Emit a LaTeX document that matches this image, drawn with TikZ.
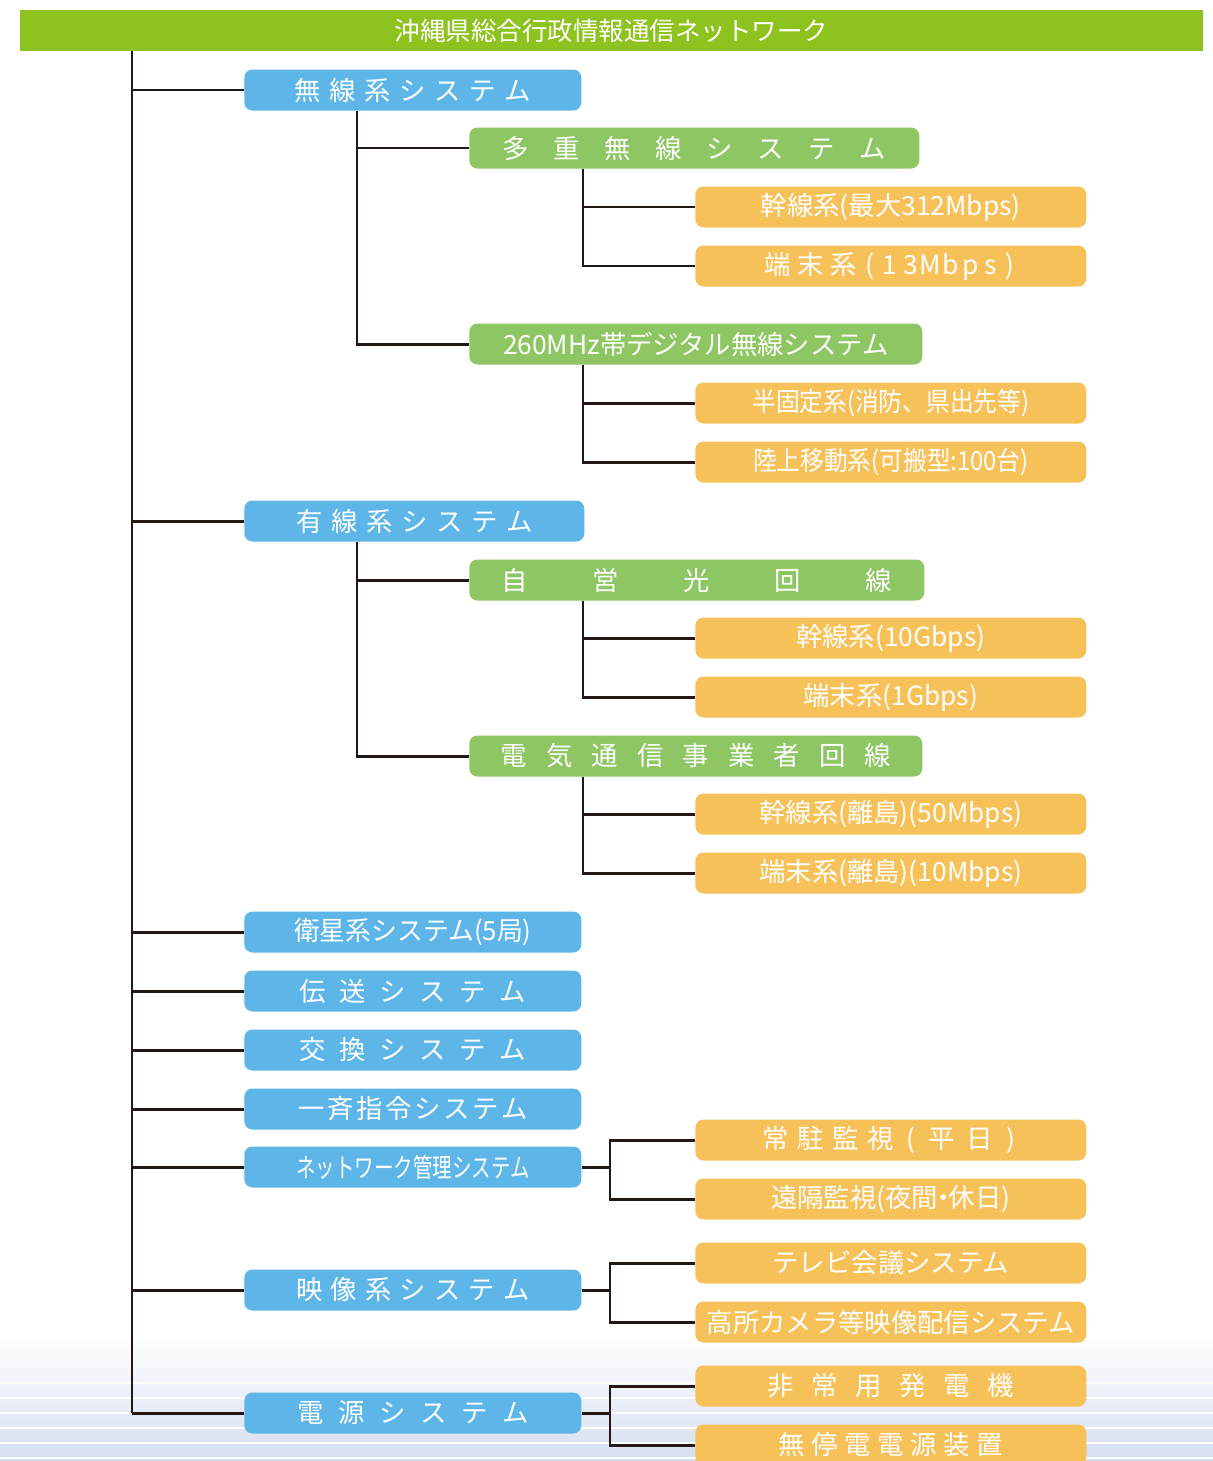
\documentclass[tikz,border=0pt]{standalone}
\usepackage{fontspec}
\newfontfamily\jpfont{Noto Sans CJK JP}
\usetikzlibrary{positioning}

\definecolor{titlegreen}{RGB}{141,194,31}
\definecolor{sysblue}{RGB}{94,182,232}
\definecolor{subgreen}{RGB}{141,198,99}
\definecolor{leaforange}{RGB}{247,193,90}
\definecolor{linebrown}{RGB}{35,24,21}
\definecolor{floorblue}{RGB}{214,222,240}

\makeatletter
\newcommand\spaced[2]{\@tfor\spch:=#2\do{\makebox[#1]{\spch}}}
\makeatother

\begin{document}
\begin{tikzpicture}[x=0.02cm, y=-0.02cm,
    box/.style={rectangle, rounded corners=0.16cm, inner sep=0pt, minimum height=0.82cm,
        anchor=west, text=white, font=\jpfont\fontsize{15}{18}\selectfont},
    sysbox/.style={box, fill=sysblue, minimum width=6.74cm},
    subbox/.style={box, fill=subgreen, minimum width=9cm},
    leafbox/.style={box, fill=leaforange, minimum width=7.82cm},
    tree/.style={draw=linebrown, line width=1.7pt}]
\useasboundingbox (0,0) rectangle (1213,1461);

% floor gradient
\shade[top color=white, bottom color=floorblue] (0,1335) rectangle (1213,1461);
\foreach \yy in {1383,1398,1413,1428,1443,1458}
    \draw[white, line width=0.8pt] (0,\yy) -- (1213,\yy);

\node (title) [rectangle, fill=titlegreen, minimum width=23.66cm, minimum height=0.82cm,
    inner sep=0pt, text=white, font=\jpfont\fontsize{14.5}{17}\selectfont] at (611.5,30.5)
    {沖縄県総合行政情報通信ネットワーク};

% first level
\node (musen) [sysbox] at (244,90) {\spaced{0.70cm}{無線系システム}};
\node (yusen) [sysbox, minimum width=6.8cm] at (244,521) {\spaced{0.70cm}{有線系システム}};
\node (eisei) [sysbox] at (244,932) {\scalebox{0.98}[1]{衛星系システム(5局)}};
\node (densou) [sysbox] at (244,991) {\spaced{0.80cm}{伝送システム}};
\node (koukan) [sysbox] at (244,1050) {\spaced{0.80cm}{交換システム}};
\node (issei) [sysbox] at (244,1109) {\spaced{0.58cm}{一斉指令システム}};
\node (netkan) [sysbox] at (244,1167) {\scalebox{0.74}[1]{ネットワーク管理システム}};
\node (eizou) [sysbox] at (244,1290) {\spaced{0.69cm}{映像系システム}};
\node (dengen) [sysbox] at (244,1413) {\spaced{0.82cm}{電源システム}};

% second level
\node (tajuu) [subbox] at (469,148) {\spaced{1.02cm}{多重無線システム}};
\node (dig) [subbox, minimum width=9.06cm] at (469,344) {260MHz帯デジタル無線システム};
\node (jiei) [subbox, minimum width=9.06cm] at (469,580) {\spaced{1.82cm}{自営光回線}};
\node (dentsu) [subbox, minimum width=9.06cm] at (469,756) {\spaced{0.91cm}{電気通信事業者回線}};

% third level
\node (kansenM) [leafbox] at (695,207) {幹線系(最大312Mbps)};
\node (tanmatsuM) [leafbox] at (695,266) {\spaced{0.66cm}{端末系}\spaced{0.4cm}{(13Mbps)}};
\node (hankotei) [leafbox] at (695,403) {\scalebox{0.9}[1]{半固定系(消防、県出先等)}};
\node (rikujou) [leafbox] at (695,462) {\scalebox{0.9}[1]{陸上移動系(可搬型:100台)}};
\node (kansenK) [leafbox] at (695,638) {幹線系(10Gbps)};
\node (tanmatsuK) [leafbox] at (695,697) {端末系(1Gbps)};
\node (kansenR) [leafbox] at (695,814) {幹線系(離島)(50Mbps)};
\node (tanmatsuR) [leafbox] at (695,873) {端末系(離島)(10Mbps)};
\node (joutyu) [leafbox] at (695,1140) {\spaced{0.70cm}{常駐監視}\spaced{0.5cm}{(}\spaced{0.75cm}{平日}\spaced{0.5cm}{)}};
\node (enkaku) [leafbox] at (695,1199) {遠隔監視(夜間\kern-0.3em・\kern-0.3em休日)};
\node (tvkaigi) [leafbox] at (695,1263) {テレビ会議システム};
\node (kamera) [leafbox] at (695,1322) {高所カメラ等映像配信システム};
\node (hijou) [leafbox] at (695,1386) {\spaced{0.88cm}{非常用発電機}};
\node (mutei) [leafbox] at (695,1445) {\spaced{0.66cm}{無停電電源装置}};

\coordinate (trunk) at (132,51);
\coordinate (musenT) at (357,0);
\coordinate (tajuuT) at (583,0);
\coordinate (brk) at (610,0);

% main trunk
\draw[tree] (title.south -| trunk) -- (dengen.west -| trunk);
\foreach \sys in {musen,yusen,eisei,densou,koukan,issei,netkan,eizou,dengen}
    \draw[tree] (\sys.west -| trunk) -- (\sys.west);

% second level branches
\draw[tree] (musen.south -| musenT) |- (tajuu.west);
\draw[tree] (musen.south -| musenT) |- (dig.west);
\draw[tree] (yusen.south -| musenT) |- (jiei.west);
\draw[tree] (yusen.south -| musenT) |- (dentsu.west);

% third level branches
\draw[tree] (tajuu.south -| tajuuT) |- (kansenM.west);
\draw[tree] (tajuu.south -| tajuuT) |- (tanmatsuM.west);
\draw[tree] (dig.south -| tajuuT) |- (hankotei.west);
\draw[tree] (dig.south -| tajuuT) |- (rikujou.west);
\draw[tree] (jiei.south -| tajuuT) |- (kansenK.west);
\draw[tree] (jiei.south -| tajuuT) |- (tanmatsuK.west);
\draw[tree] (dentsu.south -| tajuuT) |- (kansenR.west);
\draw[tree] (dentsu.south -| tajuuT) |- (tanmatsuR.west);

% brackets on the right
\draw[tree] (netkan.east) -- (netkan.east -| brk);
\draw[tree] (joutyu.west) -| (enkaku.west -| brk) -- (enkaku.west);
\draw[tree] (eizou.east) -- (eizou.east -| brk);
\draw[tree] (tvkaigi.west) -| (kamera.west -| brk) -- (kamera.west);
\draw[tree] (dengen.east) -- (dengen.east -| brk);
\draw[tree] (hijou.west) -| (mutei.west -| brk) -- (mutei.west);
\end{tikzpicture}
\end{document}
